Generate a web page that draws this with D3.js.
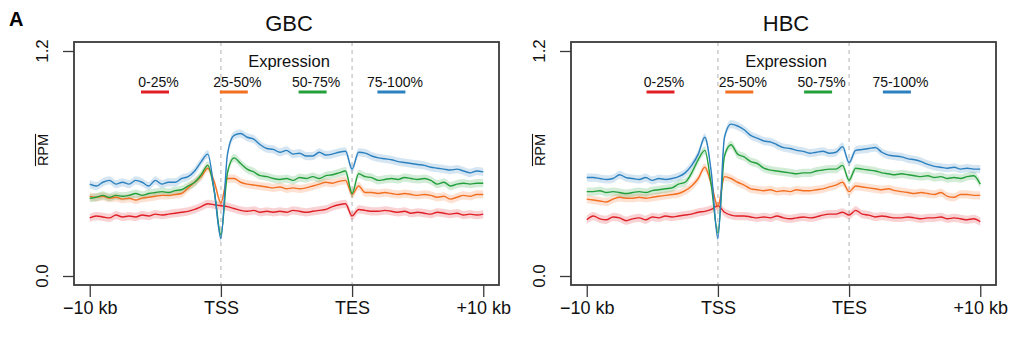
<!DOCTYPE html>
<html>
<head>
<meta charset="utf-8">
<script src="https://cdn.jsdelivr.net/npm/d3@7"></script>
<style>
  body { margin: 0; background: #fff; }
  svg { font-family: "Liberation Sans", Arial, Helvetica, sans-serif; }
</style>
</head>
<body>
<div id="fig"></div>
<script>
// bin positions in meta-gene units: 0 = -10 kb, 1 = TSS, 2 = TES, 3 = +10 kb
var bins = d3.range(61).map(i => i * 0.05);
var tickPos = [0, 1, 2, 3];
var tickLabels = ["\u221210 kb", "TSS", "TES", "+10 kb"];
var yTicks = [0, 1.2];
var yTickLabels = ["0.0", "1.2"];
var groups = ["0-25%", "25-50%", "50-75%", "75-100%"];
var colours = ["#e02027", "#f36f21", "#23a03b", "#2b80c0"];
var bandHalf = [0.022, 0.022, 0.022, 0.022];

var gbcQ1 = [0.31,0.32,0.315,0.31,0.325,0.315,0.32,0.315,0.325,0.32,
  0.33,0.325,0.33,0.335,0.34,0.345,0.355,0.37,0.385,0.38,
  0.375,0.37,0.36,0.35,0.345,0.35,0.34,0.345,0.34,0.345,
  0.34,0.35,0.345,0.34,0.345,0.35,0.355,0.37,0.38,0.385,
  0.32,0.355,0.35,0.345,0.345,0.35,0.345,0.34,0.345,0.335,
  0.34,0.335,0.33,0.34,0.335,0.33,0.335,0.325,0.33,0.325,
  0.33];
var gbcQ2 = [0.425,0.42,0.425,0.415,0.42,0.41,0.415,0.405,0.415,0.42,
  0.425,0.43,0.43,0.435,0.44,0.47,0.50,0.53,0.575,0.50,
  0.39,0.52,0.52,0.50,0.49,0.485,0.48,0.475,0.47,0.475,
  0.465,0.47,0.465,0.47,0.48,0.49,0.50,0.495,0.505,0.51,
  0.435,0.48,0.445,0.445,0.44,0.445,0.44,0.435,0.44,0.435,
  0.43,0.435,0.43,0.42,0.425,0.41,0.42,0.43,0.425,0.435,
  0.435];
var gbcQ3 = [0.415,0.42,0.43,0.42,0.43,0.425,0.43,0.44,0.43,0.44,
  0.445,0.45,0.445,0.455,0.46,0.48,0.50,0.54,0.59,0.45,
  0.22,0.55,0.63,0.60,0.57,0.555,0.535,0.53,0.52,0.515,
  0.52,0.51,0.525,0.52,0.53,0.52,0.535,0.54,0.55,0.56,
  0.44,0.545,0.53,0.525,0.51,0.515,0.52,0.515,0.525,0.52,
  0.515,0.52,0.51,0.49,0.50,0.48,0.49,0.495,0.49,0.495,
  0.495];
var gbcQ4 = [0.49,0.48,0.50,0.51,0.49,0.50,0.49,0.51,0.50,0.48,
  0.51,0.49,0.50,0.50,0.52,0.53,0.56,0.61,0.65,0.45,
  0.20,0.65,0.75,0.76,0.74,0.73,0.70,0.68,0.675,0.66,
  0.67,0.65,0.655,0.64,0.64,0.66,0.645,0.65,0.66,0.665,
  0.57,0.66,0.655,0.64,0.63,0.625,0.62,0.61,0.605,0.60,
  0.595,0.59,0.58,0.575,0.57,0.565,0.57,0.56,0.55,0.56,
  0.555];

var hbcQ1 = [0.30,0.32,0.305,0.30,0.315,0.31,0.295,0.305,0.31,0.30,
  0.315,0.31,0.32,0.315,0.32,0.325,0.33,0.34,0.345,0.355,
  0.375,0.34,0.325,0.32,0.32,0.315,0.31,0.315,0.31,0.32,
  0.31,0.305,0.31,0.315,0.31,0.315,0.325,0.33,0.33,0.34,
  0.325,0.35,0.33,0.325,0.315,0.32,0.315,0.31,0.31,0.315,
  0.31,0.305,0.31,0.31,0.315,0.305,0.31,0.305,0.30,0.305,
  0.29];
var hbcQ2 = [0.41,0.405,0.40,0.395,0.41,0.42,0.415,0.415,0.42,0.415,
  0.42,0.425,0.43,0.435,0.44,0.455,0.48,0.52,0.58,0.49,
  0.37,0.53,0.52,0.50,0.485,0.465,0.46,0.455,0.46,0.45,
  0.455,0.45,0.46,0.455,0.455,0.46,0.465,0.475,0.485,0.50,
  0.45,0.48,0.475,0.47,0.465,0.46,0.465,0.455,0.45,0.445,
  0.44,0.445,0.44,0.435,0.445,0.425,0.42,0.435,0.435,0.43,
  0.43];
var hbcQ3 = [0.45,0.45,0.455,0.445,0.45,0.445,0.44,0.445,0.45,0.445,
  0.455,0.46,0.465,0.47,0.49,0.50,0.55,0.62,0.67,0.48,
  0.23,0.64,0.70,0.65,0.635,0.61,0.60,0.575,0.565,0.56,
  0.555,0.55,0.545,0.55,0.55,0.56,0.565,0.57,0.57,0.59,
  0.51,0.575,0.57,0.565,0.56,0.55,0.545,0.54,0.545,0.54,
  0.535,0.53,0.535,0.525,0.53,0.52,0.525,0.52,0.53,0.535,
  0.49];
var hbcQ4 = [0.525,0.525,0.52,0.515,0.52,0.54,0.525,0.52,0.515,0.525,
  0.51,0.52,0.515,0.52,0.53,0.55,0.59,0.65,0.74,0.55,
  0.20,0.74,0.81,0.80,0.78,0.75,0.735,0.72,0.715,0.70,
  0.685,0.68,0.67,0.665,0.655,0.66,0.665,0.655,0.66,0.69,
  0.605,0.67,0.675,0.68,0.685,0.66,0.645,0.64,0.635,0.625,
  0.62,0.61,0.595,0.585,0.58,0.575,0.58,0.57,0.575,0.57,
  0.57];

var W = 1013, H = 339;
var plotW = 425, plotH = 243;

var svg = d3.select("#fig").append("svg")
    .attr("width", W)
    .attr("height", H);

svg.append("text")
    .attr("x", 9).attr("y", 26)
    .style("font-size", "20px").style("font-weight", "bold")
    .text("A");

var x = d3.scaleLinear().domain([-0.12, 3.12]).range([0, plotW]);
var y = d3.scaleLinear().domain([-0.048, 1.248]).range([plotH, 0]);

function makePanel(left, title, series, legendLeft) {
    var g = svg.append("g").attr("transform", "translate(" + left + ",42)");

    // dashed guides at TSS and TES
    g.selectAll(".guide")
        .data([1, 2])
        .enter().append("line")
        .attr("x1", d => x(d)).attr("x2", d => x(d))
        .attr("y1", 0).attr("y2", plotH)
        .attr("stroke", "#c8c8c8")
        .attr("stroke-width", 1.4)
        .attr("stroke-dasharray", "4,4");

    var area = d3.area()
        .curve(d3.curveMonotoneX)
        .x((d, i) => x(bins[i]))
        .y0(d => y(d[0]))
        .y1(d => y(d[1]));
    var line = d3.line()
        .curve(d3.curveMonotoneX)
        .x((d, i) => x(bins[i]))
        .y(d => y(d));

    series.forEach((s, k) => {
        g.append("path")
            .attr("d", area(s.map(v => [v - bandHalf[k], v + bandHalf[k]])))
            .attr("fill", colours[k])
            .attr("fill-opacity", 0.2)
            .attr("stroke", "none");
    });
    series.forEach((s, k) => {
        g.append("path")
            .attr("d", line(s))
            .attr("fill", "none")
            .attr("stroke", colours[k])
            .attr("stroke-width", 1.4);
    });

    // box
    g.append("rect")
        .attr("x", 0).attr("y", 0)
        .attr("width", plotW).attr("height", plotH)
        .attr("fill", "none")
        .attr("stroke", "#3a3a3a")
        .attr("stroke-width", 1.8);

    // x axis
    var xa = g.append("g")
        .attr("transform", "translate(0," + plotH + ")")
        .call(d3.axisBottom(x).tickValues(tickPos).tickSize(12)
            .tickFormat((d, i) => tickLabels[i]));
    xa.select(".domain").remove();
    xa.selectAll("line").attr("stroke", "#3a3a3a").attr("stroke-width", 1.3);
    xa.selectAll("text")
        .attr("y", 29).attr("dy", 0)
        .style("font-size", "18px")
        .style("font-family", "Liberation Sans, Arial, sans-serif")
        .attr("fill", "#111");

    // y axis
    var ya = g.append("g")
        .call(d3.axisLeft(y).tickValues(yTicks).tickSize(11).tickFormat(""));
    ya.select(".domain").remove();
    ya.selectAll("line").attr("stroke", "#3a3a3a").attr("stroke-width", 1.3);
    g.selectAll(".ylab")
        .data(yTicks)
        .enter().append("text")
        .attr("transform", (d, i) => "translate(-26," + y(d) + ") rotate(-90)")
        .attr("text-anchor", "middle")
        .style("font-size", "17px")
        .attr("fill", "#111")
        .text((d, i) => yTickLabels[i]);

    // y label with overline
    var yl = g.append("text")
        .attr("transform", "translate(-26," + (150 - 42) + ") rotate(-90)")
        .attr("text-anchor", "middle")
        .style("font-size", "14.5px")
        .attr("fill", "#111")
        .text("RPM");
    var tl = yl.node().getComputedTextLength();
    g.append("line")
        .attr("x1", -38.5).attr("x2", -38.5)
        .attr("y1", 150 - 42 - tl / 2).attr("y2", 150 - 42 + tl / 2)
        .attr("stroke", "#111").attr("stroke-width", 1.1);

    // title
    g.append("text")
        .attr("x", 215).attr("y", -11)
        .attr("text-anchor", "middle")
        .style("font-size", "22px")
        .attr("fill", "#111")
        .text(title);

    // legend
    g.append("text")
        .attr("x", 215).attr("y", 25)
        .attr("text-anchor", "middle")
        .style("font-size", "16.5px")
        .attr("fill", "#111")
        .text("Expression");

    var leg = g.selectAll(".leg")
        .data(groups)
        .enter().append("g")
        .attr("transform", (d, i) => "translate(" + (legendLeft + i * 78.8) + ",0)");
    leg.append("line")
        .attr("x1", -14).attr("x2", 14)
        .attr("y1", 50).attr("y2", 50)
        .attr("stroke", (d, i) => colours[i])
        .attr("stroke-width", 3);
    leg.append("text")
        .attr("x", 3.5).attr("y", 45)
        .attr("text-anchor", "middle")
        .style("font-size", "14px")
        .attr("fill", "#111")
        .text(d => d);
}

makePanel(74, "GBC", [gbcQ1, gbcQ2, gbcQ3, gbcQ4], 81);
makePanel(571, "HBC", [hbcQ1, hbcQ2, hbcQ3, hbcQ4], 89.5);
</script>
</body>
</html>
